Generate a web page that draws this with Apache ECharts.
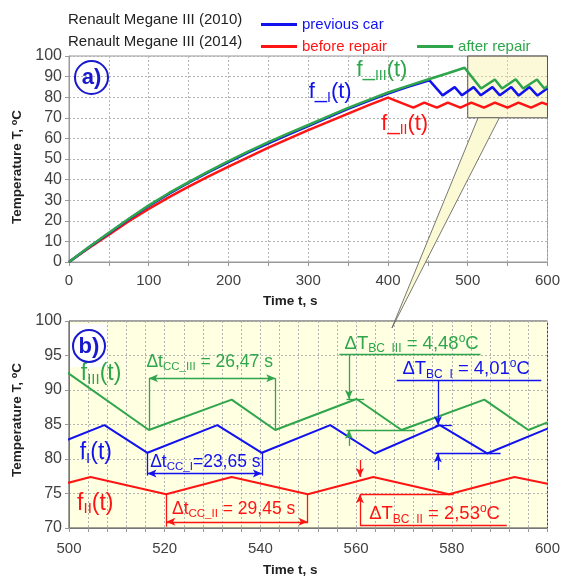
<!DOCTYPE html>
<html>
<head>
<meta charset="utf-8">
<script src="https://cdn.jsdelivr.net/npm/echarts@6/dist/echarts.min.js"></script>
<style>
  html, body { margin: 0; padding: 0; background: #fff; }
  #chart { width: 563px; height: 579px; }
</style>
</head>
<body>
<div id="chart"></div>
<script>
// f_I : previous car (2010)
const timeI = [0, 25, 50, 75, 100, 125, 150, 175, 200, 225, 250, 275, 300, 325, 350, 375, 400, 425, 452,
  468.5, 483.7, 492.8, 507.4, 516.4, 531, 540.3, 554.6, 563.9, 577.5, 587.4, 600];
const tempI = [0, 7.2, 14.0, 20.8, 27.2, 33.1, 38.5, 43.6, 48.5, 53.2, 57.6, 61.9, 66.0, 70.2, 74.3, 78.1, 81.8, 85.1, 88.2,
  80.9, 84.9, 80.9, 84.9, 80.9, 84.9, 80.9, 84.9, 80.8, 84.9, 80.8, 84.4];

// f_II : before repair (2014)
const timeII = [0, 25, 50, 75, 100, 125, 150, 175, 200, 225, 250, 275, 300, 325, 350, 375, 400,
  431.8, 445.5, 461.3, 475, 490.8, 504.5, 520.3, 534, 549.9, 563.6, 579.4, 593.1, 600];
const tempII = [0, 6.8, 13.3, 19.8, 25.8, 31.4, 36.6, 41.6, 46.3, 50.9, 55.5, 59.8, 64.0, 68.0, 72.0, 76.0, 79.8,
  74.9, 77.4, 74.9, 77.4, 74.9, 77.4, 74.9, 77.4, 74.9, 77.4, 74.9, 77.4, 76.4];

// f_III : after repair (2014)
const timeIII = [0, 25, 50, 75, 100, 125, 150, 175, 200, 225, 250, 275, 300, 325, 350, 375, 400, 425, 450, 475, 496,
  516.7, 534, 543.1, 560.1, 569.5, 586.8, 596, 600];
const tempIII = [0, 7.3, 14.2, 21.0, 27.5, 33.4, 38.8, 44.0, 49.0, 53.7, 58.2, 62.4, 66.5, 70.7, 74.8, 78.6, 82.3, 85.5, 88.6, 91.6, 94.3,
  84.2, 88.6, 84.2, 88.7, 84.2, 88.6, 84.2, 85.3];

const seriesNames = ['previous car', 'before repair', 'after repair'];
const cars = ['Renault Megane III (2010)', 'Renault Megane III (2014)'];

const BLUE = '#1212ee';
const RED = '#ff1414';
const GREEN = '#2fa54c';
const F = 'Liberation Sans, Arial, sans-serif';

const toPairs = (t, v) => t.map((x, i) => [x, v[i]]);

function rich(color, m, s) {
  return {
    m: { fontFamily: F, fontSize: m, color: color, lineHeight: m + 4 },
    s: { fontFamily: F, fontSize: s, color: color, lineHeight: s + 2, verticalAlign: 'bottom' },
    p: { fontFamily: F, fontSize: s, color: color, lineHeight: s + 2, verticalAlign: 'top' }
  };
}

function tag(coord, text, r) {
  return {
    coord: coord, symbol: 'rect', symbolSize: 1,
    itemStyle: { color: 'rgba(0,0,0,0)' },
    label: { show: true, position: 'inside', formatter: text, rich: r }
  };
}

function seg(x1, y1, x2, y2, s1, s2) {
  return [{ coord: [x1, y1], symbol: s1 || 'none' }, { coord: [x2, y2], symbol: s2 || 'none' }];
}

function marks(color, lines) {
  return {
    silent: true, symbol: ['none', 'none'], symbolSize: [6, 9], animation: false,
    label: { show: false },
    lineStyle: { color: color, width: 1.3, type: 'solid' },
    emphasis: { disabled: true },
    data: lines
  };
}

const chart = echarts.init(document.getElementById('chart'));

const gridLine = { show: true, lineStyle: { color: '#b4b4b4', type: [2, 2], width: 1 } };
const xLab = { color: '#404040', fontSize: 15, fontFamily: F };
const yLab = { color: '#404040', fontSize: 16, fontFamily: F };
const nameStyle = { color: '#222', fontSize: 13.5, fontWeight: 'bold', fontFamily: F };
const supStyle = { sup: { fontSize: 9, fontWeight: 'bold', color: '#222', verticalAlign: 'top', lineHeight: 10, fontFamily: F } };

const option = {
  animation: false,
  textStyle: { fontFamily: F },
  legend: [
    {
      left: 256, top: 12, icon: 'rect', itemWidth: 36, itemHeight: 3, selectedMode: false,
      textStyle: { fontSize: 15, fontFamily: F },
      data: [{ name: seriesNames[0], textStyle: { color: BLUE } }]
    },
    {
      left: 256, top: 34, icon: 'rect', itemWidth: 36, itemHeight: 3, itemGap: 30, selectedMode: false,
      textStyle: { fontSize: 15, fontFamily: F },
      data: [{ name: seriesNames[1], textStyle: { color: RED } }, { name: seriesNames[2], textStyle: { color: GREEN } }]
    }
  ],
  grid: [
    { left: 69, top: 56, width: 480, height: 206, show: true, borderColor: '#999', borderWidth: 1, backgroundColor: '#fff' },
    { left: 69, top: 321, width: 480, height: 207, show: true, borderColor: '#444', borderWidth: 1, backgroundColor: '#ffffe2' }
  ],
  xAxis: [
    {
      gridIndex: 0, type: 'value', min: 0, max: 600, interval: 50,
      name: 'Time t, s', nameLocation: 'middle', nameGap: 32,
      nameTextStyle: Object.assign({ padding: [0, 36, 0, 0] }, nameStyle),
      axisLine: { lineStyle: { color: '#999' } },
      axisTick: { show: true, length: 4, lineStyle: { color: '#999' } },
      axisLabel: Object.assign({ margin: 11, formatter: v => (v % 100 === 0 ? v : '') }, xLab),
      splitLine: gridLine
    },
    {
      gridIndex: 1, type: 'value', min: 500, max: 600, interval: 4,
      name: 'Time t, s', nameLocation: 'middle', nameGap: 35,
      nameTextStyle: Object.assign({ padding: [0, 36, 0, 0] }, nameStyle),
      axisLine: { lineStyle: { color: '#777' } },
      axisTick: { show: true, length: 4, lineStyle: { color: '#999' } },
      axisLabel: Object.assign({ margin: 13, formatter: v => (v % 20 === 0 ? v : '') }, xLab),
      splitLine: gridLine
    }
  ],
  yAxis: [
    {
      gridIndex: 0, type: 'value', min: 0, max: 100, interval: 10,
      name: 'Temperature T, {sup|o}C', nameLocation: 'middle', nameGap: 45,
      nameTextStyle: Object.assign({ padding: [0, 16, 0, 0], rich: supStyle }, nameStyle),
      axisLine: { show: true, lineStyle: { color: '#999' } },
      axisTick: { show: true, length: 4, lineStyle: { color: '#999' } },
      axisLabel: Object.assign({ margin: 7 }, yLab),
      splitLine: gridLine
    },
    {
      gridIndex: 1, type: 'value', min: 70, max: 100, interval: 5,
      name: 'Temperature T, {sup|o}C', nameLocation: 'middle', nameGap: 42,
      nameTextStyle: Object.assign({ padding: [0, 0, 0, 9], rich: supStyle }, nameStyle),
      axisLine: { show: true, lineStyle: { color: '#777' } },
      axisTick: { show: true, length: 4, lineStyle: { color: '#999' } },
      axisLabel: Object.assign({ margin: 7 }, yLab),
      splitLine: gridLine
    }
  ],
  series: [
    // zoom window of panel a)
    {
      type: 'line', xAxisIndex: 0, yAxisIndex: 0, data: [], silent: true,
      markArea: {
        silent: true,
        itemStyle: { color: 'rgba(245,238,150,0.38)', borderColor: '#555', borderWidth: 1 },
        data: [[{ coord: [500, 70] }, { coord: [600, 100] }]]
      }
    },
    // panel a)
    {
      name: seriesNames[1], type: 'line', xAxisIndex: 0, yAxisIndex: 0, data: toPairs(timeII, tempII),
      symbol: 'none', lineStyle: { width: 2.5, color: RED }, itemStyle: { color: RED },
      markPoint: { silent: true, data: [tag([421, 67], '{m|f_}{s|II}{m|(t)}', rich(RED, 22, 14))] }
    },
    {
      name: seriesNames[0], type: 'line', xAxisIndex: 0, yAxisIndex: 0, data: toPairs(timeI, tempI),
      symbol: 'none', lineStyle: { width: 2.5, color: BLUE }, itemStyle: { color: BLUE },
      markPoint: { silent: true, data: [tag([327.5, 82.6], '{m|f_}{s|I}{m|(t)}', rich(BLUE, 22, 14))] }
    },
    {
      name: seriesNames[2], type: 'line', xAxisIndex: 0, yAxisIndex: 0, data: toPairs(timeIII, tempIII),
      symbol: 'none', lineStyle: { width: 2.5, color: GREEN }, itemStyle: { color: GREEN },
      markPoint: { silent: true, data: [tag([392.5, 93.2], '{m|f_}{s|III}{m|(t)}', rich(GREEN, 22, 14))] }
    },
    // panel b)
    {
      name: seriesNames[1], type: 'line', xAxisIndex: 1, yAxisIndex: 1, data: toPairs(timeII, tempII),
      symbol: 'none', lineStyle: { width: 2, color: RED }, itemStyle: { color: RED },
      markLine: marks(RED, [
        seg(520.35, 74.9, 520.35, 70.2), seg(549.85, 74.9, 549.85, 70.7),
        seg(520.35, 70.9, 549.85, 70.9, 'arrow', 'arrow'),
        seg(560.8, 79.85, 560.8, 77.4, 'none', 'arrow'), seg(560.8, 70.4, 560.8, 74.9, 'none', 'arrow'),
        seg(560.8, 74.9, 580.4, 74.9), seg(560.8, 70.4, 591.5, 70.4)
      ]),
      markPoint: {
        silent: true, data: [
          tag([505.5, 73.6], '{m|f}{s|II}{m|(t)}', rich(RED, 23, 15)),
          tag([534.4, 72.7], '{m|Δt}{s|CC_II}{m| = 29,45 s}', rich(RED, 17.5, 11.5)),
          tag([576.4, 72.0], '{m|ΔT}{s|BC_II}{m| = 2,53}{p|o}{m|C}', rich(RED, 18.5, 12))
        ]
      }
    },
    {
      name: seriesNames[0], type: 'line', xAxisIndex: 1, yAxisIndex: 1, data: toPairs(timeI, tempI),
      symbol: 'none', lineStyle: { width: 2, color: BLUE }, itemStyle: { color: BLUE },
      markLine: marks(BLUE, [
        seg(516.4, 80.9, 516.4, 77.6), seg(540.3, 80.9, 540.3, 77.6),
        seg(516.4, 77.9, 540.3, 77.9, 'arrow', 'arrow'),
        seg(568.5, 91.45, 598.7, 91.45),
        seg(577.1, 91.45, 577.1, 84.9, 'none', 'arrow'), seg(577.1, 78.4, 577.1, 80.8, 'none', 'arrow'),
        seg(576.6, 84.9, 580, 84.9), seg(576.6, 80.8, 590.2, 80.8)
      ]),
      markPoint: {
        silent: true, data: [
          tag([505.6, 80.9], '{m|f}{s|I}{m|(t)}', rich(BLUE, 23, 15)),
          tag([528.5, 79.6], '{m|Δt}{s|CC_I}{m|=23,65 s}', rich(BLUE, 17.5, 11.5)),
          tag([583, 93.05], '{m|ΔT}{s|BC_I}{m| = 4,01}{p|o}{m|C}', rich(BLUE, 18.5, 12))
        ]
      }
    },
    {
      name: seriesNames[2], type: 'line', xAxisIndex: 1, yAxisIndex: 1, data: toPairs(timeIII, tempIII),
      symbol: 'none', lineStyle: { width: 2, color: GREEN }, itemStyle: { color: GREEN },
      markLine: marks(GREEN, [
        seg(516.7, 84.2, 516.7, 91.7), seg(543.1, 84.2, 543.1, 91.7),
        seg(516.7, 91.7, 543.1, 91.7, 'arrow', 'arrow'),
        seg(556.5, 95.2, 586, 95.2),
        seg(558.5, 95.2, 558.5, 88.7, 'none', 'arrow'), seg(558.5, 81.9, 558.5, 84.2, 'none', 'arrow'),
        seg(558, 88.7, 561.7, 88.7), seg(558, 84.2, 572.3, 84.2)
      ]),
      markPoint: {
        silent: true, data: [
          tag([506.7, 92.3], '{m|f}{s|III}{m|(t)}', rich(GREEN, 23, 15)),
          tag([529.4, 94.05], '{m|Δt}{s|CC_III}{m| = 26,47 s}', rich(GREEN, 17.5, 11.5)),
          tag([571.6, 96.7], '{m|ΔT}{s|BC_III}{m| = 4,48}{p|o}{m|C}', rich(GREEN, 18.5, 12))
        ]
      }
    }
  ]
};

chart.setOption(option);

// callout wedge from the zoom window of a) down into b)
const b1 = chart.convertToPixel({ gridIndex: 0 }, [513, 70]);
const b2 = chart.convertToPixel({ gridIndex: 0 }, [539.6, 70]);
const tip = chart.convertToPixel({ gridIndex: 1 }, [567.5, 99]);

chart.setOption({
  graphic: [
    { type: 'text', x: 68, y: 20, style: { text: cars[0], fill: '#222', font: '15px ' + F, verticalAlign: 'middle' } },
    { type: 'text', x: 68, y: 42, style: { text: cars[1], fill: '#222', font: '15px ' + F, verticalAlign: 'middle' } },
    { type: 'rect', z: 1, shape: { x: 70, y: 324, width: 37, height: 43 }, style: { fill: '#fff' } },
    { type: 'circle', z: 10, shape: { cx: 91.5, cy: 77.5, r: 16.5 }, style: { fill: 'none', stroke: '#1818cc', lineWidth: 2 } },
    { type: 'text', z: 10, x: 91.5, y: 78, style: { text: 'a)', fill: '#1818cc', font: 'bold 22px ' + F, align: 'center', verticalAlign: 'middle' } },
    { type: 'circle', z: 10, shape: { cx: 89, cy: 346, r: 16 }, style: { fill: 'none', stroke: '#1818cc', lineWidth: 2 } },
    { type: 'text', z: 10, x: 89, y: 346.5, style: { text: 'b)', fill: '#1818cc', font: 'bold 22px ' + F, align: 'center', verticalAlign: 'middle' } },
    {
      type: 'polygon', z: 20,
      shape: { points: [b1, b2, tip] },
      style: { fill: '#fcfad4', stroke: '#555', lineWidth: 0.8 }
    }
  ]
});
</script>
</body>
</html>
